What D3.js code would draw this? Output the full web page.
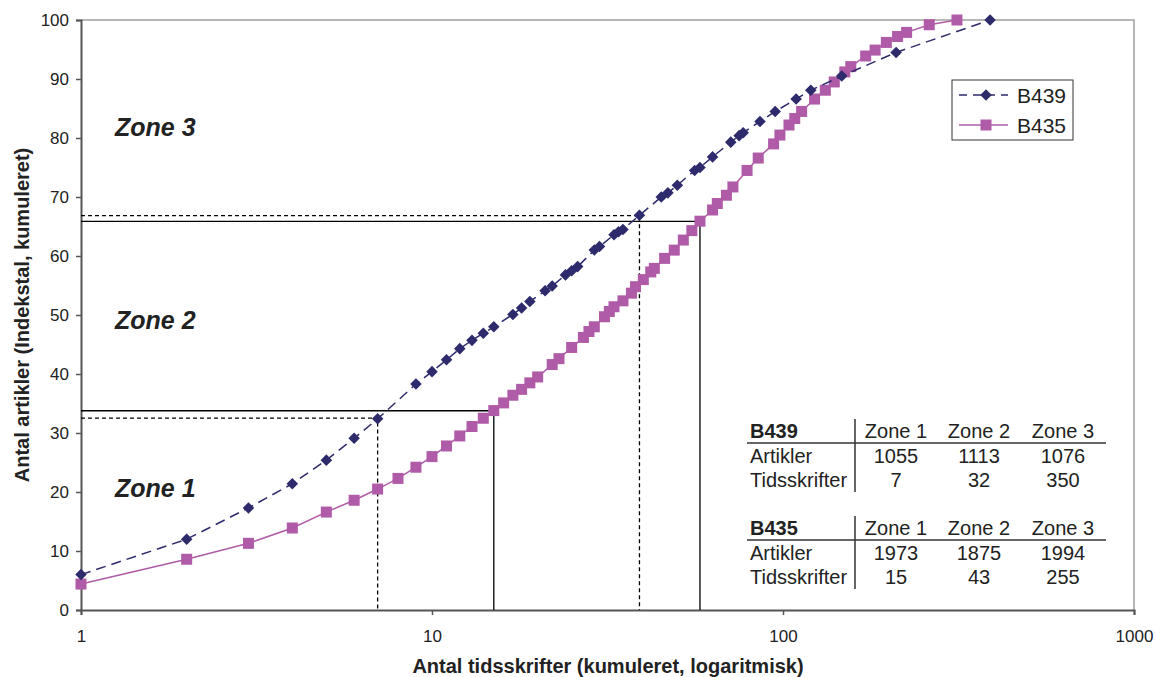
<!DOCTYPE html>
<html>
<head>
<meta charset="utf-8">
<script src="https://cdn.jsdelivr.net/npm/d3@7"></script>
<style>
  body { margin: 0; background: #fff; }
  svg { font-family: "Liberation Sans", Arial, sans-serif; }
</style>
</head>
<body>
<div id="chart"></div>
<script>
// Data
const b439X = [1, 2, 3, 4, 5, 6, 7, 9, 10, 11, 12, 13, 14, 15, 17, 18, 19, 21, 22, 24, 25, 26, 29, 30, 33, 34, 35, 39, 45, 47, 50, 56, 58, 63, 71, 75, 77, 86, 95, 109, 120, 147, 210, 389];
const b439Y = [6.0, 12.0, 17.3, 21.4, 25.4, 29.1, 32.4, 38.3, 40.4, 42.4, 44.3, 45.7, 46.9, 48.0, 50.1, 51.2, 52.3, 54.1, 54.9, 56.8, 57.5, 58.2, 61.0, 61.6, 63.6, 64.1, 64.5, 66.9, 70.0, 70.7, 72.0, 74.5, 75.0, 76.8, 79.3, 80.4, 80.9, 82.8, 84.5, 86.6, 88.1, 90.5, 94.5, 100];

const b435X = [1, 2, 3, 4, 5, 6, 7, 8, 9, 10, 11, 12, 13, 14, 15, 16, 17, 18, 19, 20, 22, 23, 25, 27, 28, 29, 31, 32, 33, 35, 37, 38, 40, 42, 43, 46, 49, 52, 55, 58, 63, 65, 69, 72, 79, 85, 94, 98, 104, 108, 113, 123, 132, 140, 150, 156, 172, 183, 197, 212, 225, 261, 313];
const b435Y = [4.4, 8.6, 11.3, 13.9, 16.6, 18.6, 20.5, 22.3, 24.2, 26.0, 27.8, 29.5, 31.1, 32.5, 33.8, 35.1, 36.4, 37.4, 38.5, 39.5, 41.6, 42.6, 44.5, 46.2, 47.2, 48.0, 49.7, 50.6, 51.4, 52.4, 53.7, 54.8, 56.0, 57.3, 57.9, 59.6, 61.0, 62.7, 64.3, 65.9, 67.8, 68.9, 70.3, 71.7, 74.5, 76.6, 79.0, 80.5, 82.2, 83.3, 84.5, 86.6, 88.1, 89.5, 91.2, 92.1, 93.9, 94.9, 96.2, 97.2, 97.9, 99.2, 100];

// Zone table
const zones = ["Zone 1", "Zone 2", "Zone 3"];
const b439Articles = [1055, 1113, 1076];
const b439Journals = [7, 32, 350];
const b435Articles = [1973, 1875, 1994];
const b435Journals = [15, 43, 255];

const xTicks = [1, 10, 100, 1000];
const yTicks = [0, 10, 20, 30, 40, 50, 60, 70, 80, 90, 100];

// Dimensions
const width = 1156;
const height = 677;
const margin = { top: 20, right: 22, bottom: 67, left: 81 };

const color439 = "#2e2b6d";
const color435 = "#b05ba7";
const textColor = "#222";

const svg = d3.select("#chart").append("svg")
  .attr("width", width)
  .attr("height", height);

// Scales
const xScale = d3.scaleLog()
  .domain([1, 1000])
  .range([margin.left, width - margin.right]);
const yScale = d3.scaleLinear()
  .domain([0, 100])
  .range([height - margin.bottom, margin.top]);

// Plot frame (top and right)
svg.append("path")
  .attr("d", `M${xScale(1)},${yScale(100)}H${xScale(1000)}V${yScale(0)}`)
  .attr("fill", "none")
  .attr("stroke", "#a0a0a0")
  .attr("stroke-width", 1.5);

// Axes
const xAxisG = svg.append("g")
  .attr("transform", `translate(0,${yScale(0)})`)
  .call(d3.axisBottom(xScale).tickValues(xTicks).tickFormat(d3.format("d")).tickSize(5).tickPadding(15));
const yAxisG = svg.append("g")
  .attr("transform", `translate(${margin.left},0)`)
  .call(d3.axisLeft(yScale).tickValues(yTicks).tickSize(5).tickPadding(7));

[xAxisG, yAxisG].forEach((g) => {
  g.select(".domain").attr("stroke", "#555").attr("stroke-width", 2);
  g.selectAll(".tick line").attr("stroke", "#555").attr("stroke-width", 1.5);
  g.selectAll(".tick text")
    .attr("fill", textColor)
    .style("font-size", "17px")
    .style("font-family", "Liberation Sans, Arial, sans-serif");
});

// Axis titles
svg.append("text")
  .attr("x", 608)
  .attr("y", 673)
  .attr("text-anchor", "middle")
  .style("font-size", "20px")
  .style("font-weight", "bold")
  .attr("fill", textColor)
  .text("Antal tidsskrifter (kumuleret, logaritmisk)");

svg.append("text")
  .attr("transform", `translate(29,${yScale(50)}) rotate(-90)`)
  .attr("text-anchor", "middle")
  .style("font-size", "20px")
  .style("font-weight", "bold")
  .attr("fill", textColor)
  .text("Antal artikler (Indekstal, kumuleret)");

// Zone boundary lines, derived from the table
function boundaries(articles, journals) {
  const total = d3.sum(articles);
  const cumJ = d3.cumsum(journals);
  const cumA = d3.cumsum(articles);
  return [0, 1].map((i) => ({ x: cumJ[i], y: (cumA[i] / total) * 100 }));
}

function drawBoundaries(points, dash) {
  points.forEach((p) => {
    svg.append("path")
      .attr("d", `M${xScale(1)},${yScale(p.y)}H${xScale(p.x)}V${yScale(0)}`)
      .attr("fill", "none")
      .attr("stroke", "#000")
      .attr("stroke-width", 1.3)
      .attr("stroke-dasharray", dash);
  });
}
drawBoundaries(boundaries(b439Articles, b439Journals), "4,3");
drawBoundaries(boundaries(b435Articles, b435Journals), null);

// Zone labels (baseline positions in data units)
const zoneLabelY = [19.2, 47.7, 80.4];
zones.forEach((z, i) => {
  svg.append("text")
    .attr("x", 115)
    .attr("y", yScale(zoneLabelY[i]))
    .style("font-size", "25px")
    .style("font-weight", "bold")
    .style("font-style", "italic")
    .attr("fill", textColor)
    .text(z);
});

// Series
const line = d3.line()
  .x((d) => xScale(d[0]))
  .y((d) => yScale(d[1]));

const s435 = d3.zip(b435X, b435Y);
const s439 = d3.zip(b439X, b439Y);

svg.append("path")
  .attr("d", line(s435))
  .attr("fill", "none")
  .attr("stroke", color435)
  .attr("stroke-width", 1.5);

svg.append("g")
  .selectAll("rect")
  .data(s435)
  .join("rect")
  .attr("x", (d) => xScale(d[0]) - 5.5)
  .attr("y", (d) => yScale(d[1]) - 5.5)
  .attr("width", 11)
  .attr("height", 11)
  .attr("fill", color435);

svg.append("path")
  .attr("d", line(s439))
  .attr("fill", "none")
  .attr("stroke", color439)
  .attr("stroke-width", 1.5)
  .attr("stroke-dasharray", "10,6");

const diamond = d3.symbol().type(d3.symbolDiamond2).size(85);
svg.append("g")
  .selectAll("path")
  .data(s439)
  .join("path")
  .attr("transform", (d) => `translate(${xScale(d[0])},${yScale(d[1])})`)
  .attr("d", diamond)
  .attr("fill", color439);

// Legend
const legend = svg.append("g").attr("transform", "translate(952,80)");
legend.append("rect")
  .attr("width", 121)
  .attr("height", 60)
  .attr("fill", "#fff")
  .attr("stroke", "#333")
  .attr("stroke-width", 1);

const legendItems = [
  { name: "B439", color: color439, dash: "8,6", marker: "diamond" },
  { name: "B435", color: color435, dash: null, marker: "square" },
];
legendItems.forEach((d, i) => {
  const cy = 15 + i * 30;
  const g = legend.append("g").attr("transform", `translate(0,${cy})`);
  g.append("line")
    .attr("x1", 7).attr("x2", 56)
    .attr("stroke", d.color)
    .attr("stroke-width", 1.5)
    .attr("stroke-dasharray", d.dash);
  if (d.marker === "diamond") {
    g.append("path").attr("transform", "translate(34,0)").attr("d", diamond).attr("fill", d.color);
  } else {
    g.append("rect").attr("x", 28.5).attr("y", -5.5).attr("width", 11).attr("height", 11).attr("fill", d.color);
  }
  g.append("text")
    .attr("x", 65)
    .attr("y", 7.5)
    .style("font-size", "21px")
    .attr("fill", textColor)
    .text(d.name);
});

// Zone tables
function drawTable(top, name, articles, journals) {
  const g = svg.append("g").attr("transform", `translate(0,${top})`);
  const colX = [896, 979, 1063];
  const fs = "20px";
  g.append("text").attr("x", 750).attr("y", 0)
    .style("font-size", fs).style("font-weight", "bold").attr("fill", textColor).text(name);
  g.selectAll(".hdr").data(zones).join("text")
    .attr("x", (d, i) => colX[i]).attr("y", 0)
    .attr("text-anchor", "middle")
    .style("font-size", fs).attr("fill", textColor).text((d) => d);
  g.append("line").attr("x1", 747).attr("x2", 1106).attr("y1", 5).attr("y2", 5)
    .attr("stroke", "#333").attr("stroke-width", 1.5);
  g.append("line").attr("x1", 855).attr("x2", 855).attr("y1", -19).attr("y2", 54)
    .attr("stroke", "#333").attr("stroke-width", 1.5);
  const rows = [["Artikler", articles], ["Tidsskrifter", journals]];
  rows.forEach(([label, vals], r) => {
    const y = 25 + r * 24;
    g.append("text").attr("x", 750).attr("y", y)
      .style("font-size", fs).attr("fill", textColor).text(label);
    g.selectAll(".r" + r).data(vals).join("text")
      .attr("x", (d, i) => colX[i]).attr("y", y)
      .attr("text-anchor", "middle")
      .style("font-size", fs).attr("fill", textColor).text((d) => d);
  });
}
drawTable(438, "B439", b439Articles, b439Journals);
drawTable(535, "B435", b435Articles, b435Journals);
</script>
</body>
</html>
